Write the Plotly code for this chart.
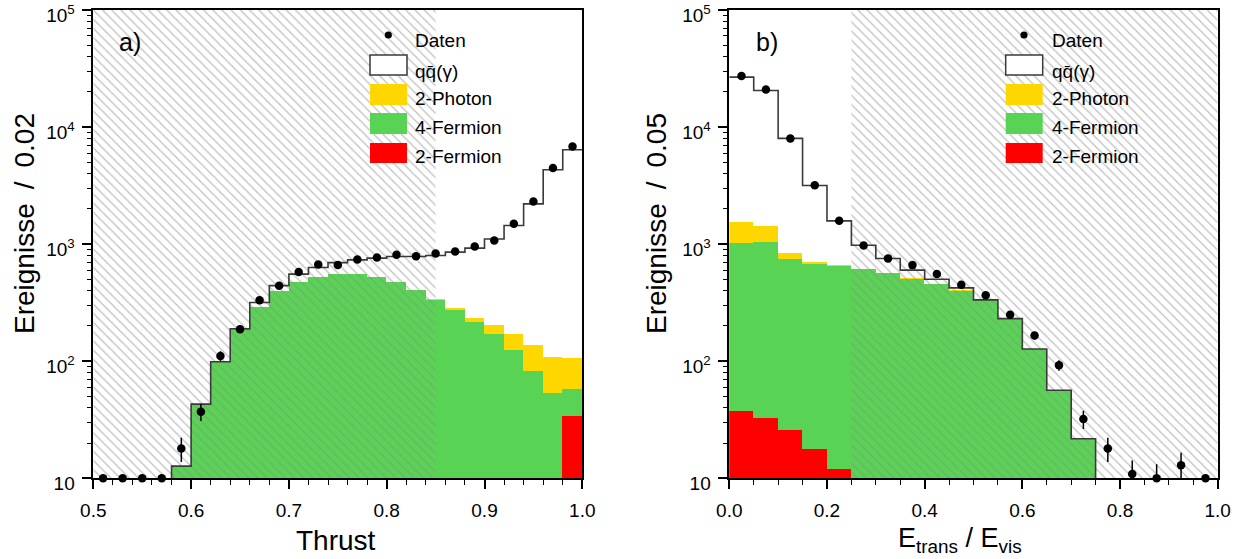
import plotly.graph_objects as go

# ---------------- data ----------------
# Panel a): Thrust, 25 bins of width 0.02 from 0.50 to 1.00
thrust_edges = [round(0.50 + 0.02 * i, 2) for i in range(26)]
# Stack heights (cumulative): top of qq(gamma), of 2-Photon, of 4-Fermion, of 2-Fermion
thrust_top_qq = [0, 0, 0, 0, 12.7, 43, 99, 189, 317, 442, 555, 631, 696, 734, 759,
                 784, 784, 799, 854, 925, 1105, 1442, 2208, 4314, 6393]
thrust_top_2photon = [0, 0, 0, 0, 12.7, 43, 99, 185, 293, 399, 476, 529, 557, 557, 526,
                      478, 408, 339, 284, 233, 204, 170, 138, 108, 107]
thrust_top_4fermion = [0, 0, 0, 0, 12.7, 43, 99, 185, 293, 399, 476, 529, 557, 557, 523,
                       474, 406, 336, 274, 218, 170, 125, 83, 53.6, 58]
thrust_top_2fermion = [0] * 24 + [34]
thrust_data = [10, 10, 10, 10, 18, 37, 111, 188, 332, 442, 577, 670, 665, 739, 769,
               810, 789, 831, 865, 955, 1075, 1494, 2312, 4470, 6820]
thrust_data_err = [0, 0, 0, 0, 4.2, 6.1, 10.5, 13.7, 18.2, 21, 24, 25.9, 25.8, 27.2, 27.7,
                   28.5, 28.1, 28.8, 29.4, 30.9, 32.8, 38.7, 48.1, 66.9, 82.6]

# Panel b): E_trans / E_vis, 20 bins of width 0.05 from 0.0 to 1.0
etr_edges = [round(0.05 * i, 2) for i in range(21)]
etr_top_qq = [26700, 20560, 8000, 3170, 1581, 980, 754, 600, 502, 423, 334, 231, 127,
              56.5, 21.8, 0, 0, 0, 0, 0]
etr_top_2photon = [1560, 1432, 843, 710, 665, 615, 570, 510, 460, 403, 333, 230, 127,
                   56.5, 21.8, 0, 0, 0, 0, 0]
etr_top_4fermion = [1033, 1047, 754, 683, 656, 611, 568, 508, 458, 401, 332, 230, 127,
                    56.5, 21.8, 0, 0, 0, 0, 0]
etr_top_2fermion = [37.4, 33, 26, 17.7, 12.1] + [0] * 15
etr_data = [27300, 20950, 8000, 3190, 1581, 973, 754, 662, 555, 449, 366, 249, 165.5,
            92.5, 32.1, 18, 10.9, 10, 12.9, 10]
etr_data_err = [165, 145, 89, 56, 40, 31, 27.5, 25.7, 23.6, 21.2, 19.1, 15.8, 12.9,
                9.6, 5.7, 4.2, 3.3, 3.2, 3.6, 0]

# hatched (excluded) ranges
thrust_cut_region = [0.50, 0.85]
etr_cut_region = [0.25, 1.00]

y_tickvals = [10, 100, 1000, 10000, 100000]
y_ticktext = ["10", "10<sup>2</sup>", "10<sup>3</sup>", "10<sup>4</sup>", "10<sup>5</sup>"]
thrust_tickvals = [0.5, 0.6, 0.7, 0.8, 0.9, 1.0]
thrust_ticktext = ["0.5", "0.6", "0.7", "0.8", "0.9", "1.0"]
etr_tickvals = [0.0, 0.2, 0.4, 0.6, 0.8, 1.0]
etr_ticktext = ["0.0", "0.2", "0.4", "0.6", "0.8", "1.0"]

legend_labels = ["Daten", "qq\u0304(\u03b3)", "2-Photon", "4-Fermion", "2-Fermion"]

# ---------------- style ----------------
W, H = 1247, 559
FONT = "Liberation Sans, Arial, Helvetica, sans-serif"
C_YELLOW = "#FFD700"
C_GREEN = "#59D354"
C_RED = "#FF0000"
C_LINE = "#3a3a3a"
HATCH = "#8a8a8a"
SP = "\u2002"

Y_MIN, Y_MAX = 10, 1e5


def px_x(p):
    return p / W


def px_y(p):
    return 1 - p / H


fig = go.Figure()


def nz(vals):
    return [v if v > 0 else None for v in vals]


def add_panel(edges, tops, data, err, cut, xa, ya):
    centers = [(a + b) / 2 for a, b in zip(edges[:-1], edges[1:])]
    widths = [b - a for a, b in zip(edges[:-1], edges[1:])]
    # filled stack, tallest first so lower components sit on top
    for vals, col in [(tops[1], C_YELLOW), (tops[2], C_GREEN), (tops[3], C_RED)]:
        fig.add_trace(go.Bar(
            x=centers, y=nz(vals), width=widths, marker=dict(color=col, line=dict(width=0)),
            xaxis=xa, yaxis=ya, showlegend=False, hoverinfo="skip"))
    # hatched region
    fig.add_trace(go.Scatter(
        x=[cut[0], cut[1], cut[1], cut[0], cut[0]],
        y=[Y_MIN, Y_MIN, Y_MAX, Y_MAX, Y_MIN],
        mode="lines", fill="toself", line=dict(width=0),
        fillcolor="rgba(0,0,0,0)",
        fillpattern=dict(shape="\\", fgcolor=HATCH, bgcolor="rgba(0,0,0,0)",
                         size=6.5, solidity=0.22),
        xaxis=xa, yaxis=ya, showlegend=False, hoverinfo="skip"))
    # qq(gamma) outline as a step line; empty bins fall below the axis and get clipped
    total = [v if v > 0 else 1 for v in tops[0]]
    fig.add_trace(go.Scatter(
        x=list(edges[:-1]) + [edges[-1]], y=total + [total[-1]],
        mode="lines", line=dict(shape="hv", color=C_LINE, width=1.6),
        xaxis=xa, yaxis=ya, showlegend=False, hoverinfo="skip"))
    # data points
    fig.add_trace(go.Scatter(
        x=centers, y=data, mode="markers",
        marker=dict(color="black", size=8.5),
        error_y=dict(type="data", array=err, visible=True, color="black",
                     thickness=1.5, width=0),
        cliponaxis=False, xaxis=xa, yaxis=ya, showlegend=False))


add_panel(thrust_edges,
          [thrust_top_qq, thrust_top_2photon, thrust_top_4fermion, thrust_top_2fermion],
          thrust_data, thrust_data_err, thrust_cut_region, "x", "y")
add_panel(etr_edges,
          [etr_top_qq, etr_top_2photon, etr_top_4fermion, etr_top_2fermion],
          etr_data, etr_data_err, etr_cut_region, "x2", "y2")

tick_font = dict(family=FONT, size=19, color="black")

# plot areas in pixels
left_box = (93.3, 582.3)
right_box = (729.3, 1217.7)
top_px, bot_px = 10, 478.3
ydom = [px_y(bot_px), px_y(top_px)]

minor_y = [m * 10 ** k for k in range(1, 5) for m in range(2, 10)]


def xaxis_cfg(box, rng, tv, tt, minor_step):
    n = int(round((rng[1] - rng[0]) / minor_step))
    return dict(
        domain=[px_x(box[0]), px_x(box[1])], range=rng, automargin=False,
        tickmode="array", tickvals=tv, ticktext=tt, ticklabelstandoff=5,
        ticklabeloverflow="allow",
        ticks="outside", ticklen=9, tickwidth=1.5, tickcolor="black",
        minor=dict(tickmode="array",
                   tickvals=[rng[0] + minor_step * i for i in range(n + 1)],
                   ticks="outside", ticklen=5, tickwidth=1.2, tickcolor="black",
                   showgrid=False),
        showline=True, mirror=True, linecolor="black", linewidth=1.5,
        showgrid=False, zeroline=False, tickfont=tick_font)


def yaxis_cfg(anchor):
    return dict(
        domain=ydom, type="log", range=[1, 5], anchor=anchor, automargin=False,
        tickmode="array", tickvals=y_tickvals, ticktext=y_ticktext,
        ticklabeloverflow="allow", ticklabelstandoff=3, ticklabelshift=5,
        ticks="outside", ticklen=10, tickwidth=1.5, tickcolor="black",
        minor=dict(tickmode="array", tickvals=minor_y, ticks="outside", ticklen=5,
                   tickwidth=1.2, tickcolor="black", showgrid=False),
        showline=True, mirror=True, linecolor="black", linewidth=1.5,
        showgrid=False, zeroline=False, tickfont=tick_font)


fig.update_layout(
    width=W, height=H, margin=dict(l=0, r=0, t=0, b=0, autoexpand=False),
    paper_bgcolor="white", plot_bgcolor="white",
    barmode="overlay", bargap=0, showlegend=False,
    xaxis=dict(anchor="y", **xaxis_cfg(left_box, [0.5, 1.0], thrust_tickvals,
                                       thrust_ticktext, 0.02)),
    xaxis2=dict(anchor="y2", **xaxis_cfg(right_box, [0.0, 1.0], etr_tickvals,
                                         etr_ticktext, 0.05)),
    yaxis=yaxis_cfg("x"),
    yaxis2=yaxis_cfg("x2"),
)

annotations = []
shapes = []


def text(x, y, s, size, xanchor="left", angle=0):
    annotations.append(dict(
        x=px_x(x), y=px_y(y), xref="paper", yref="paper", text=s, showarrow=False,
        xanchor=xanchor, yanchor="middle", textangle=angle,
        font=dict(family=FONT, size=size, color="black")))


# axis titles
text(25, 224, "Ereignisse" + SP + "/" + SP + "0.02", 28, xanchor="center", angle=-90)
text(657, 224, "Ereignisse" + SP + "/" + SP + "0.05", 28, xanchor="center", angle=-90)
text(336, 540, "Thrust", 28, xanchor="center")
text(960, 540, "E<sub>trans</sub> / E<sub>vis</sub>", 27, xanchor="center")

# panel labels
text(117, 42, "a)", 25)
text(754, 42, "b)", 25)


def legend(box_x0, dot_x, text_x):
    box_w = 37
    dot_r = 3.6
    shapes.append(dict(type="circle", xref="paper", yref="paper",
                       x0=px_x(dot_x - dot_r), x1=px_x(dot_x + dot_r),
                       y0=px_y(35 + dot_r), y1=px_y(35 - dot_r),
                       fillcolor="black", line=dict(width=0)))
    rows = [(55, 75, "white", C_LINE), (84, 105, C_YELLOW, None),
            (113, 134, C_GREEN, None), (143, 163, C_RED, None)]
    for y0, y1, fc, lc in rows:
        shapes.append(dict(type="rect", xref="paper", yref="paper",
                           x0=px_x(box_x0), x1=px_x(box_x0 + box_w),
                           y0=px_y(y1), y1=px_y(y0), fillcolor=fc,
                           line=dict(width=1.5 if lc else 0, color=lc or fc)))
    ys = [40, 71, 98, 127, 156]
    for lab, yy in zip(legend_labels, ys):
        text(text_x, yy, lab, 19)


legend(370, 388.3, 413)
legend(1005.7, 1024, 1050)

fig.update_layout(annotations=annotations, shapes=shapes)

fig.write_html("out.html")
